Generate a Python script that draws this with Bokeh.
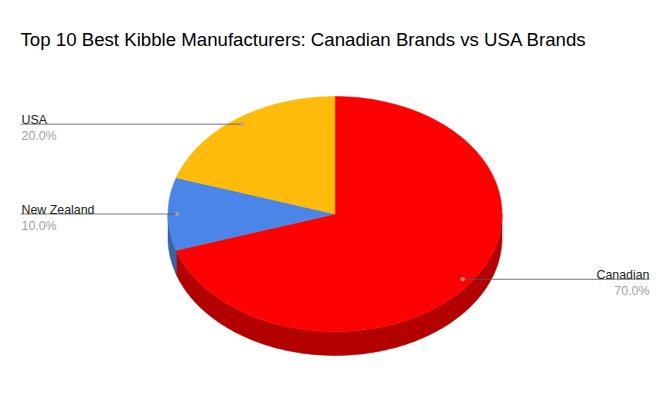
import numpy as np
from bokeh.plotting import figure
from bokeh.models import Range1d
from bokeh.core.properties import value
from bokeh.embed import file_html
from bokeh.resources import INLINE

title = "Top 10 Best Kibble Manufacturers: Canadian Brands vs USA Brands"
categories = ["Canadian", "New Zealand", "USA"]
shares = [70.0, 10.0, 20.0]
percent_labels = ["70.0%", "10.0%", "20.0%"]

colors = ["#ff0000", "#4a86e8", "#ffbb0a"]
wall_colors = ["#b30000", "#3465a8", "#b38600"]

W, H = 662, 406
CX, CY, RX, RY, DEPTH = 334.5, 213.5, 167.0, 117.5, 24.0

p = figure(width=W, height=H, output_backend="svg", toolbar_location=None,
           x_range=Range1d(0, W), y_range=Range1d(H, 0),
           min_border=0, outline_line_color=None, background_fill_color="white")
p.axis.visible = False
p.grid.visible = False


def rim(a0, a1, n=160):
    t = np.radians(np.linspace(a0, a1, n))
    return CX + RX * np.sin(t), CY - RY * np.cos(t)


edges = np.concatenate([[0], np.cumsum(shares)]) * 3.6

# side walls: only the part of each slice on the front half (90..270 deg)
for i in range(len(shares)):
    a0, a1 = max(edges[i], 90.0), min(edges[i + 1], 270.0)
    if a1 <= a0:
        continue
    x, y = rim(a0, a1)
    p.patch(np.concatenate([x, x[::-1]]), np.concatenate([y, y[::-1] + DEPTH]),
            fill_color=wall_colors[i], line_color=wall_colors[i], line_width=0.5)

# top faces
for i in range(len(shares)):
    x, y = rim(edges[i], edges[i + 1])
    p.patch(np.concatenate([[CX], x]), np.concatenate([[CY], y]),
            fill_color=colors[i], line_color=colors[i], line_width=0.5)

# leader anchor points (fraction of radius along the slice's mid angle)
mids = (edges[:-1] + edges[1:]) / 2
ANCHOR = 0.945
line_end = [649, 20, 20]
for i in range(len(shares)):
    t = np.radians(mids[i])
    ax = CX + RX * ANCHOR * np.sin(t)
    ay = CY - RY * ANCHOR * np.cos(t)
    p.line([ax, line_end[i]], [ay, ay], line_color="#555555", line_alpha=0.8, line_width=1)
    p.scatter([ax], [ay], size=4.5, fill_color="#aaaaaa", fill_alpha=0.7, line_color=None)
    align = "right" if line_end[i] > CX else "left"
    tx = line_end[i] + (1 if align == "left" else 0)
    p.text([tx], [ay - 4], text=[categories[i]],
           text_font=value("Liberation Sans"), text_font_size="12.4px", text_color="#222222",
           text_align=align, text_baseline="alphabetic")
    p.text([tx], [ay + 12], text=[percent_labels[i]],
           text_font=value("Liberation Sans"), text_font_size="12.4px", text_color="#a0a0a0",
           text_align=align, text_baseline="alphabetic")

p.text([20], [39], text=[title], text_font=value("Liberation Sans"), text_font_size="18.67px",
       text_color="#000000", text_align="left", text_baseline="alphabetic")

open("out.html", "w").write(file_html(p, INLINE))
